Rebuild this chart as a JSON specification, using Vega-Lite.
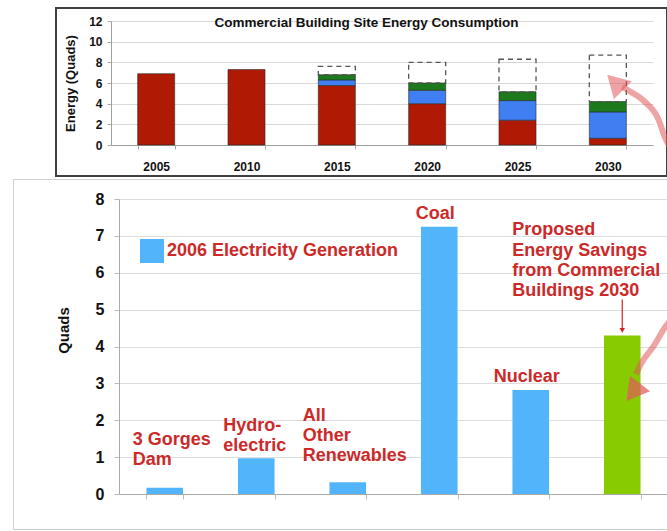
{
  "$schema": "https://vega.github.io/schema/vega-lite/v6.json",
  "padding": {"left": 12, "top": 7, "right": 0, "bottom": 0},
  "autosize": {"type": "pad"},
  "background": "white",
  "spacing": 1,
  "resolve": {"scale": {"color": "independent"}, "legend": {"color": "independent"}},
  "datasets": {
    "energy": [
      {"year": "2005", "segment": "Remaining consumption", "rank": 1, "quads": 6.9},
      {"year": "2010", "segment": "Remaining consumption", "rank": 1, "quads": 7.3},
      {"year": "2015", "segment": "Remaining consumption", "rank": 1, "quads": 5.75},
      {"year": "2015", "segment": "Efficiency savings", "rank": 2, "quads": 0.55},
      {"year": "2015", "segment": "Renewable generation", "rank": 3, "quads": 0.5},
      {"year": "2020", "segment": "Remaining consumption", "rank": 1, "quads": 4.0},
      {"year": "2020", "segment": "Efficiency savings", "rank": 2, "quads": 1.3},
      {"year": "2020", "segment": "Renewable generation", "rank": 3, "quads": 0.7},
      {"year": "2025", "segment": "Remaining consumption", "rank": 1, "quads": 2.4},
      {"year": "2025", "segment": "Efficiency savings", "rank": 2, "quads": 1.9},
      {"year": "2025", "segment": "Renewable generation", "rank": 3, "quads": 0.85},
      {"year": "2030", "segment": "Remaining consumption", "rank": 1, "quads": 0.65},
      {"year": "2030", "segment": "Efficiency savings", "rank": 2, "quads": 2.55},
      {"year": "2030", "segment": "Renewable generation", "rank": 3, "quads": 1.0}
    ],
    "potential": [
      {"year": "2015", "base": 6.8, "total": 7.6},
      {"year": "2020", "base": 6.0, "total": 8.0},
      {"year": "2025", "base": 5.15, "total": 8.3},
      {"year": "2030", "base": 4.2, "total": 8.7}
    ],
    "arrowTop": [
      {"yr": 2033.6, "quads": -0.58},
      {"yr": 2033.2, "quads": 0.58},
      {"yr": 2032.77, "quads": 2.61},
      {"yr": 2032.0, "quads": 4.26},
      {"yr": 2031.1, "quads": 5.32},
      {"yr": 2030.8, "quads": 5.65}
    ],
    "arrowTopHead": [
      {"yr": 2030.4, "quads": 6.05}
    ],
    "generation": [
      {"source": "3 Gorges Dam", "series": "2006 Electricity Generation", "quads": 0.17, "label": "3 Gorges\nDam"},
      {"source": "Hydroelectric", "series": "2006 Electricity Generation", "quads": 0.97, "label": "Hydro-\nelectric"},
      {"source": "All Other Renewables", "series": "2006 Electricity Generation", "quads": 0.32, "label": "All\nOther\nRenewables"},
      {"source": "Coal", "series": "2006 Electricity Generation", "quads": 7.25, "label": "Coal"},
      {"source": "Nuclear", "series": "2006 Electricity Generation", "quads": 2.82, "label": "Nuclear"},
      {"source": "Proposed Energy Savings from Commercial Buildings 2030", "series": "Proposed Energy Savings", "quads": 4.3, "label": "Proposed\nEnergy Savings\nfrom Commercial\nBuildings 2030"}
    ],
    "arrowBottom": [
      {"pos": 6.555, "quads": 4.8},
      {"pos": 6.479, "quads": 4.56},
      {"pos": 6.337, "quads": 3.99},
      {"pos": 6.205, "quads": 3.53},
      {"pos": 6.15, "quads": 3.25}
    ],
    "arrowBottomHead": [
      {"pos": 6.12, "quads": 2.76}
    ]
  },
  "vconcat": [
    {
      "bounds": "flush",
      "spacing": 0,
      "hconcat": [
        {
          "width": 43,
          "height": 168,
          "view": {"stroke": null},
          "data": {"values": []},
          "mark": {"type": "point", "opacity": 0}
        },
        {
          "width": 611,
          "height": 168,
          "view": {"stroke": "#404040", "strokeWidth": 2},
          "title": {
            "text": "Commercial Building Site Energy Consumption",
            "font": "Liberation Sans",
            "fontSize": 13.5,
            "fontWeight": "bold",
            "color": "#111111",
            "anchor": "middle",
            "frame": "group",
            "offset": -21,
            "dx": 5
          },
          "resolve": {"scale": {"x": "independent"}, "axis": {"x": "independent"}},
          "layer": [
            {
              "layer": [
                {
                  "data": {"name": "energy"},
                  "mark": {"type": "bar", "stroke": "#2a2a2a", "strokeWidth": 0.6},
                  "encoding": {
                    "x": {
                      "field": "year",
                      "type": "ordinal",
                      "scale": {"range": [55, 597], "paddingInner": 0.59, "paddingOuter": 0.295},
                      "axis": {
                        "title": null,
                        "orient": "bottom",
                        "offset": -31,
                        "labelAngle": 0,
                        "labelFont": "Liberation Sans",
                        "labelFontSize": 12,
                        "labelFontWeight": "bold",
                        "labelColor": "#111111",
                        "labelPadding": 12,
                        "tickBand": "extent",
                        "tickSize": 4,
                        "tickColor": "#aaaaaa",
                        "domainColor": "#a0a0a0",
                        "grid": false
                      }
                    },
                    "y": {
                      "field": "quads",
                      "type": "quantitative",
                      "stack": "zero",
                      "scale": {"domain": [0, 12], "range": [137, 13], "nice": false},
                      "axis": {
                        "title": "Energy (Quads)",
                        "values": [0, 2, 4, 6, 8, 10, 12],
                        "tickCount": 7,
                        "labelOverlap": false,
                        "offset": -55,
                        "labelFont": "Liberation Sans",
                        "labelFontSize": 12,
                        "labelFontWeight": "bold",
                        "labelColor": "#111111",
                        "labelPadding": 5,
                        "tickSize": 4,
                        "tickColor": "#aaaaaa",
                        "domainColor": "#a0a0a0",
                        "grid": true,
                        "gridColor": "#d9d9d9",
                        "titleFont": "Liberation Sans",
                        "titleFontSize": 13,
                        "titleFontWeight": "bold",
                        "titleColor": "#111111",
                        "titleX": -41,
                        "titleY": 75,
                        "titleBaseline": "middle"
                      }
                    },
                    "color": {
                      "field": "segment",
                      "type": "nominal",
                      "scale": {
                        "domain": ["Remaining consumption", "Efficiency savings", "Renewable generation"],
                        "range": ["#b01a04", "#3f7ff2", "#1c7a1c"]
                      },
                      "legend": null
                    },
                    "order": {"field": "rank", "type": "quantitative"}
                  }
                },
                {
                  "data": {"name": "potential"},
                  "mark": {"type": "bar", "fill": "white", "fillOpacity": 0, "stroke": "#555555", "strokeWidth": 1.3, "strokeDash": [5, 4]},
                  "encoding": {
                    "x": {"field": "year", "type": "ordinal"},
                    "y": {
                      "field": "base",
                      "type": "quantitative",
                      "axis": {
                        "title": "Energy (Quads)",
                        "values": [0, 2, 4, 6, 8, 10, 12],
                        "tickCount": 7,
                        "labelOverlap": false,
                        "offset": -55,
                        "labelFont": "Liberation Sans",
                        "labelFontSize": 12,
                        "labelFontWeight": "bold",
                        "labelColor": "#111111",
                        "labelPadding": 5,
                        "tickSize": 4,
                        "tickColor": "#aaaaaa",
                        "domainColor": "#a0a0a0",
                        "grid": true,
                        "gridColor": "#d9d9d9",
                        "titleFont": "Liberation Sans",
                        "titleFontSize": 13,
                        "titleFontWeight": "bold",
                        "titleColor": "#111111",
                        "titleX": -41,
                        "titleY": 75,
                        "titleBaseline": "middle"
                      }
                    },
                    "y2": {"field": "total"}
                  }
                }
              ]
            },
            {
              "layer": [
                {
                  "data": {"name": "arrowTop"},
                  "mark": {"type": "line", "color": "#e05a5a", "opacity": 0.55, "strokeWidth": 6, "interpolate": "monotone", "clip": true},
                  "encoding": {
                    "x": {"field": "yr", "type": "quantitative", "scale": {"domain": [2005, 2030], "range": [100.17, 551.83], "zero": false, "nice": false}, "axis": null},
                    "y": {"field": "quads", "type": "quantitative"}
                  }
                },
                {
                  "data": {"name": "arrowTopHead"},
                  "mark": {"type": "point", "shape": "triangle-up", "filled": true, "size": 650, "angle": 315, "color": "#e05a5a", "opacity": 0.55},
                  "encoding": {
                    "x": {"field": "yr", "type": "quantitative"},
                    "y": {"field": "quads", "type": "quantitative"}
                  }
                }
              ]
            }
          ]
        }
      ]
    },
    {
      "width": 654,
      "height": 350,
      "view": {"stroke": "#cfcfcf", "strokeWidth": 1},
      "resolve": {"scale": {"x": "independent"}, "axis": {"x": "independent"}},
      "layer": [
        {
          "layer": [
            {
              "data": {"name": "generation"},
              "mark": {"type": "bar"},
              "encoding": {
                "x": {
                  "field": "source",
                  "type": "nominal",
                  "sort": null,
                  "scale": {"range": [106, 655], "paddingInner": 0.6, "paddingOuter": 0.3},
                  "axis": {
                    "title": null,
                    "labels": false,
                    "offset": -35,
                    "tickBand": "extent",
                    "tickSize": 5,
                    "tickColor": "#bbbbbb",
                    "domainColor": "#aaaaaa",
                    "grid": false
                  }
                },
                "y": {
                  "field": "quads",
                  "type": "quantitative",
                  "scale": {"domain": [0, 8], "range": [315, 20], "nice": false},
                  "axis": {
                    "title": "Quads",
                    "values": [0, 1, 2, 3, 4, 5, 6, 7, 8],
                    "labelOverlap": false,
                    "offset": -106,
                    "labelFont": "Liberation Sans",
                    "labelFontSize": 16,
                    "labelFontWeight": "bold",
                    "labelColor": "#111111",
                    "labelPadding": 10,
                    "tickSize": 5,
                    "tickColor": "#bbbbbb",
                    "domainColor": "#aaaaaa",
                    "grid": true,
                    "gridColor": "#dddddd",
                    "titleFont": "Liberation Sans",
                    "titleFontSize": 15,
                    "titleFontWeight": "bold",
                    "titleColor": "#111111",
                    "titleX": -56,
                    "titleY": 151,
                    "titleBaseline": "middle"
                  }
                },
                "color": {
                  "field": "series",
                  "type": "nominal",
                  "scale": {
                    "domain": ["2006 Electricity Generation", "Proposed Energy Savings"],
                    "range": ["#52b5fb", "#88cc00"]
                  },
                  "legend": {
                    "orient": "none",
                    "legendX": 127,
                    "legendY": 60,
                    "title": null,
                    "values": ["2006 Electricity Generation"],
                    "symbolType": "square",
                    "symbolSize": 576,
                    "symbolStrokeWidth": 0,
                    "symbolOpacity": 1,
                    "labelFont": "Liberation Sans",
                    "labelFontSize": 18,
                    "labelFontWeight": "bold",
                    "labelColor": "#cc2929",
                    "labelLimit": 400,
                    "labelOffset": 3,
                    "padding": 0
                  }
                }
              }
            },
            {
              "data": {"name": "generation"},
              "transform": [{"filter": "datum.source === '3 Gorges Dam'"}],
              "mark": {"type": "text", "align": "left", "baseline": "bottom", "dx": -32, "dy": -39, "lineBreak": "\n", "lineHeight": 20, "font": "Liberation Sans", "fontSize": 18, "fontWeight": "bold", "color": "#cc2929"},
              "encoding": {
                "x": {"field": "source", "type": "nominal", "sort": null},
                "y": {"field": "quads", "type": "quantitative"},
                "text": {"field": "label"}
              }
            },
            {
              "data": {"name": "generation"},
              "transform": [{"filter": "datum.source === 'Hydroelectric'"}],
              "mark": {"type": "text", "align": "left", "baseline": "bottom", "dx": -33, "dy": -23, "lineBreak": "\n", "lineHeight": 20, "font": "Liberation Sans", "fontSize": 18, "fontWeight": "bold", "color": "#cc2929"},
              "encoding": {
                "x": {"field": "source", "type": "nominal", "sort": null},
                "y": {"field": "quads", "type": "quantitative"},
                "text": {"field": "label"}
              }
            },
            {
              "data": {"name": "generation"},
              "transform": [{"filter": "datum.source === 'All Other Renewables'"}],
              "mark": {"type": "text", "align": "left", "baseline": "bottom", "dx": -45, "dy": -57, "lineBreak": "\n", "lineHeight": 20, "font": "Liberation Sans", "fontSize": 18, "fontWeight": "bold", "color": "#cc2929"},
              "encoding": {
                "x": {"field": "source", "type": "nominal", "sort": null},
                "y": {"field": "quads", "type": "quantitative"},
                "text": {"field": "label"}
              }
            },
            {
              "data": {"name": "generation"},
              "transform": [{"filter": "datum.source === 'Coal' || datum.source === 'Nuclear'"}],
              "mark": {"type": "text", "align": "center", "baseline": "bottom", "dx": -4, "dy": -4, "font": "Liberation Sans", "fontSize": 18, "fontWeight": "bold", "color": "#cc2929"},
              "encoding": {
                "x": {"field": "source", "type": "nominal", "sort": null},
                "y": {"field": "quads", "type": "quantitative"},
                "text": {"field": "label"}
              }
            },
            {
              "data": {"name": "generation"},
              "transform": [{"filter": "datum.source === 'Proposed Energy Savings from Commercial Buildings 2030'"}],
              "mark": {"type": "text", "align": "left", "baseline": "bottom", "dx": -110, "dy": -96, "lineBreak": "\n", "lineHeight": 20.3, "font": "Liberation Sans", "fontSize": 18, "fontWeight": "bold", "color": "#cc2929"},
              "encoding": {
                "x": {"field": "source", "type": "nominal", "sort": null},
                "y": {"field": "quads", "type": "quantitative"},
                "text": {"field": "label"}
              }
            },
            {
              "data": {"name": "generation"},
              "transform": [{"filter": "datum.source === 'Proposed Energy Savings from Commercial Buildings 2030'"}],
              "mark": {"type": "rule", "color": "#d42020", "strokeWidth": 1.2, "yOffset": -36, "y2Offset": -7},
              "encoding": {
                "x": {"field": "source", "type": "nominal", "sort": null},
                "y": {"field": "quads", "type": "quantitative"},
                "y2": {"field": "quads"}
              }
            },
            {
              "data": {"name": "generation"},
              "transform": [{"filter": "datum.source === 'Proposed Energy Savings from Commercial Buildings 2030'"}],
              "mark": {"type": "point", "shape": "triangle-down", "filled": true, "size": 30, "color": "#d42020", "opacity": 1, "yOffset": -5},
              "encoding": {
                "x": {"field": "source", "type": "nominal", "sort": null},
                "y": {"field": "quads", "type": "quantitative"}
              }
            }
          ]
        },
        {
          "layer": [
            {
              "data": {"name": "arrowBottom"},
              "mark": {"type": "line", "color": "#e05a5a", "opacity": 0.55, "strokeWidth": 6, "interpolate": "monotone", "clip": true},
              "encoding": {
                "x": {"field": "pos", "type": "quantitative", "scale": {"domain": [1, 6], "range": [151.75, 609.25], "zero": false, "nice": false}, "axis": null},
                "y": {"field": "quads", "type": "quantitative"}
              }
            },
            {
              "data": {"name": "arrowBottomHead"},
              "mark": {"type": "point", "shape": "triangle-up", "filled": true, "size": 650, "angle": 218, "color": "#e05a5a", "opacity": 0.72},
              "encoding": {
                "x": {"field": "pos", "type": "quantitative"},
                "y": {"field": "quads", "type": "quantitative"}
              }
            }
          ]
        }
      ]
    }
  ],
  "config": {
    "font": "Liberation Sans",
    "axis": {"domainWidth": 1, "tickWidth": 1, "gridWidth": 1}
  }
}
